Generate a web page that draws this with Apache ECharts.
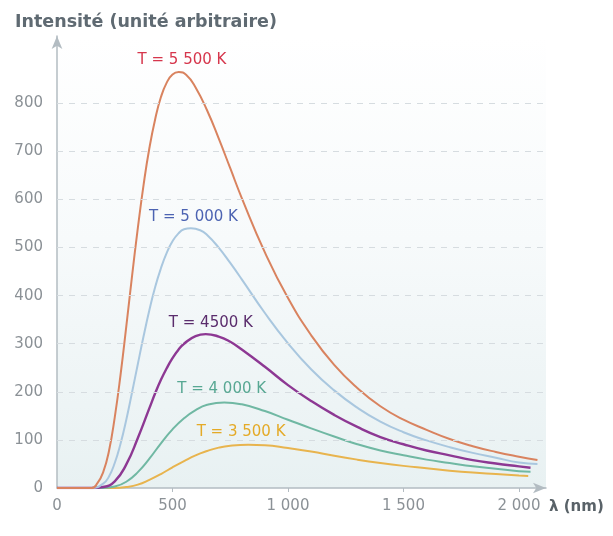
<!DOCTYPE html>
<html>
<head>
<meta charset="utf-8">
<title>Intensité (unité arbitraire)</title>
<script src="https://cdn.jsdelivr.net/npm/echarts@6/dist/echarts.min.js"></script>
<style>
  html, body { margin: 0; padding: 0; background: #ffffff; }
  #chart { width: 613px; height: 536px; }
</style>
</head>
<body>
<div id="chart"></div>
<script>
// Wavelengths (nm) and intensities (arbitrary unit), one pair of lists per temperature
const nm5500 = [0, 150, 175, 200, 225, 250, 275, 300, 325, 350, 375, 400, 425, 450, 475, 500,
  527, 560, 600, 650, 700, 750, 800, 900, 1000, 1100, 1200, 1300, 1400, 1500, 1600, 1700,
  1800, 1900, 2000, 2080];
const val5500 = [0, 0, 10, 33, 77, 147, 235, 336, 441, 541, 631, 707, 767, 813, 843, 860,
  865, 859, 833, 785, 727, 665, 603, 490, 395, 318, 256, 208, 170, 142, 121, 102,
  87, 75, 65, 58];

const nm5000 = [0, 150, 200, 225, 250, 275, 300, 325, 350, 375, 400, 425, 450, 475, 500, 525,
  550, 580, 620, 650, 700, 750, 800, 900, 1000, 1100, 1200, 1300, 1400, 1500, 1600, 1700,
  1800, 1900, 2000, 2080];
const val5000 = [0, 0, 9, 24, 52, 92, 142, 199, 258, 316, 370, 418, 457, 489, 513, 529,
  538, 540, 536, 526, 500, 468, 434, 364, 301, 247, 203, 167, 138, 116, 99, 85,
  73, 63, 53, 50];

const nm4500 = [0, 150, 200, 250, 300, 350, 400, 425, 450, 475, 500, 525, 550, 600, 644, 700,
  750, 800, 900, 1000, 1100, 1200, 1300, 1400, 1500, 1600, 1700, 1800, 1900, 2000, 2050];
const val4500 = [0, 0, 2, 14, 49, 104, 166, 197, 225, 249, 270, 287, 300, 316, 320, 315,
  304, 288, 252, 214, 181, 152, 127, 106, 91, 78, 68, 58, 51, 45, 42];

const nm4000 = [0, 200, 250, 300, 350, 400, 450, 500, 550, 600, 650, 724, 800,
  900, 1000, 1100, 1200, 1300, 1400, 1500, 1600, 1700, 1800, 1900, 2000, 2050];
const val4000 = [0, 0, 3, 13, 33, 61, 93, 122, 145, 162, 173, 178, 174,
  160, 142, 124, 107, 91, 78, 68, 59, 52, 45, 40, 35, 34];

const nm3500 = [0, 250, 300, 350, 400, 450, 500, 550, 600, 650, 700, 750, 828,
  900, 1000, 1100, 1200, 1300, 1400, 1500, 1600, 1700, 1800, 1900, 2000, 2040];
const val3500 = [0, 0, 2, 7, 17, 29, 43, 56, 68, 77, 84, 88, 90,
  89, 83, 76, 67, 59, 52, 46, 41, 36, 32, 29, 26, 25];

// Curve captions and where they sit (data coordinates)
const temperatureLabels = ['T = 5 500 K', 'T = 5 000 K', 'T = 4500 K', 'T = 4 000 K', 'T = 3 500 K'];
const labelWavelength = [541, 591, 666, 713, 797];
const labelIntensity = [889, 564, 343, 205, 116];

// Axis ticks
const xTicks = [0, 500, 1000, 1500, 2000];
const xTickLabels = ['0', '500', '1 000', '1 500', '2 000'];
const yTicks = [0, 100, 200, 300, 400, 500, 600, 700, 800];

const curveWavelengths = [nm5500, nm5000, nm4500, nm4000, nm3500];
const curveValues = [val5500, val5000, val4500, val4000, val3500];
const lineColors = ['#d9835f', '#a9c7df', '#8d3893', '#70b8a3', '#e8b44e'];
const captionColors = ['#d6364c', '#4c63b2', '#5a2c6c', '#58a893', '#e4aa27'];

const axisGray = '#b3bcc2';
const labelGray = '#8b9196';
const gridDash = '#d6dce0';

const series = [];
// coolest curve first so the hottest one is drawn on top
for (let k = curveValues.length - 1; k >= 0; k--) {
  const xs = curveWavelengths[k];
  const ys = curveValues[k];
  const s = {
    type: 'line',
    name: temperatureLabels[k],
    data: xs.map((w, i) => [w, ys[i]]),
    smooth: 0.5,
    symbol: 'none',
    showSymbol: false,
    silent: true,
    lineStyle: { color: lineColors[k], width: k === 2 ? 2.4 : 2 },
    markPoint: {
      symbol: 'circle',
      symbolSize: 0,
      silent: true,
      label: {
        show: true,
        position: 'inside',
        formatter: temperatureLabels[k],
        color: captionColors[k],
        fontFamily: 'DejaVu Sans',
        fontSize: 15
      },
      data: [{ coord: [labelWavelength[k], labelIntensity[k]] }]
    }
  };
  if (k === curveValues.length - 1) {
    // dashed horizontal guides at each labelled intensity
    s.markLine = {
      silent: true,
      symbol: ['none', 'none'],
      label: { show: false },
      lineStyle: { color: gridDash, type: [6, 6], width: 1 },
      data: yTicks.filter(v => v > 0).map(v => ({ yAxis: v }))
    };
  }
  series.push(s);
}

const chart = echarts.init(document.getElementById('chart'), null, { renderer: 'canvas' });
chart.setOption({
  animation: false,
  title: {
    text: 'Intensité (unité arbitraire)',
    left: 10,
    top: 8,
    textStyle: {
      fontFamily: 'DejaVu Sans',
      fontWeight: 'bold',
      fontSize: 17.5,
      color: '#5f6a72'
    }
  },
  grid: {
    left: 57,
    right: 67,
    top: 36,
    bottom: 48,
    show: true,
    borderWidth: 0,
    backgroundColor: new echarts.graphic.LinearGradient(0, 0, 0, 1, [
      { offset: 0, color: '#ffffff' },
      { offset: 0.45, color: '#f7fafb' },
      { offset: 1, color: '#e8f1f2' }
    ])
  },
  xAxis: {
    type: 'value',
    min: 0,
    max: 2117,
    name: 'λ (nm)',
    nameLocation: 'end',
    nameGap: 3,
    nameTextStyle: {
      fontFamily: 'DejaVu Sans',
      fontWeight: 'bold',
      fontSize: 15,
      color: '#596268',
      verticalAlign: 'top',
      padding: [12, 0, 0, 0]
    },
    axisLine: {
      show: true,
      symbol: ['none', 'arrow'],
      symbolSize: [8, 13],
      lineStyle: { color: axisGray, width: 1.5 }
    },
    axisTick: {
      show: true,
      customValues: xTicks.slice(1),
      length: 4,
      lineStyle: { color: axisGray }
    },
    axisLabel: {
      customValues: xTicks,
      margin: 11,
      fontFamily: 'DejaVu Sans',
      fontSize: 15,
      color: labelGray,
      formatter: v => xTickLabels[xTicks.indexOf(v)] || ''
    },
    splitLine: { show: false }
  },
  yAxis: {
    type: 'value',
    min: 0,
    max: 940,
    axisLine: {
      show: true,
      symbol: ['none', 'arrow'],
      symbolSize: [8, 13],
      lineStyle: { color: axisGray, width: 1.5 }
    },
    axisTick: { show: false },
    axisLabel: {
      customValues: yTicks,
      margin: 14,
      fontFamily: 'DejaVu Sans',
      fontSize: 15,
      color: labelGray
    },
    splitLine: { show: false }
  },
  series: series
});
</script>
</body>
</html>
